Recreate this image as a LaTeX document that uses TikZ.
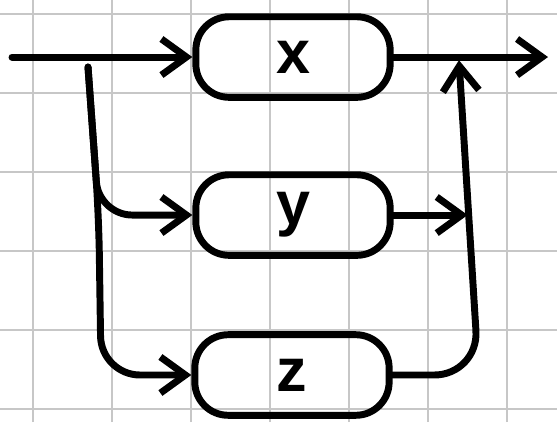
\documentclass[tikz,border=0pt]{standalone}
\usepackage{fontspec}
\setmainfont{Liberation Sans}
\usetikzlibrary{arrows.meta}

\begin{document}
\begin{tikzpicture}[
    gridline/.style={black!22, line width=0.7pt},
    box/.style={draw, line width=2.5pt, rounded corners=12pt, minimum width=2.46cm, minimum height=1.02cm, font=\fontsize{22}{22}\selectfont\bfseries},
    wire/.style={line width=2.5pt, line cap=round, line join=round},
    tip/.style={-{Straight Barb[length=9pt, width=13pt]}}
]
    % Papel cuadriculado
    \useasboundingbox (0,0) rectangle (7.051,5.342);
    \foreach \gx in {0.418,1.418,...,6.418}
        \draw[gridline] (\gx,0) -- (\gx,5.342);
    \foreach \gy in {0.165,1.165,...,5.165}
        \draw[gridline] (0,\gy) -- (7.051,\gy);

    % Bloques
    \node[box] (nx) at (3.709,4.620) {x};
    \node[box] (ny) at (3.709,2.620) {y};
    \node[box] (nz) at (3.696,0.595) {z};

    % Puntos de paso
    \coordinate (src) at (0.152,4.620);
    \coordinate (split) at (1.114,4.494);
    \coordinate (sy) at (1.25,2.62);
    \coordinate (sz) at (1.28,0.595);
    \coordinate (out) at (6.937,4.620);
    \coordinate (bend) at (6.06,0.595);
    \coordinate (join) at (5.81,4.58);
    \coordinate (jy) at (5.92,2.62);

    % Entrada y reparto
    \draw[wire, tip] (src) -- (nx.west);
    \draw[wire, tip, rounded corners=12pt] (split) -- (sy) -- (ny.west);
    \draw[wire, tip, rounded corners=14pt] (split) -- (sy) -- (sz) -- (nz.west);

    % Salida y suma
    \draw[wire, tip] (nx.east) -- (out);
    \draw[wire, tip] (ny.east) -- (jy);
    \draw[wire, tip, rounded corners=16pt] (nz.east) -- (bend) -- (join);
\end{tikzpicture}
\end{document}
